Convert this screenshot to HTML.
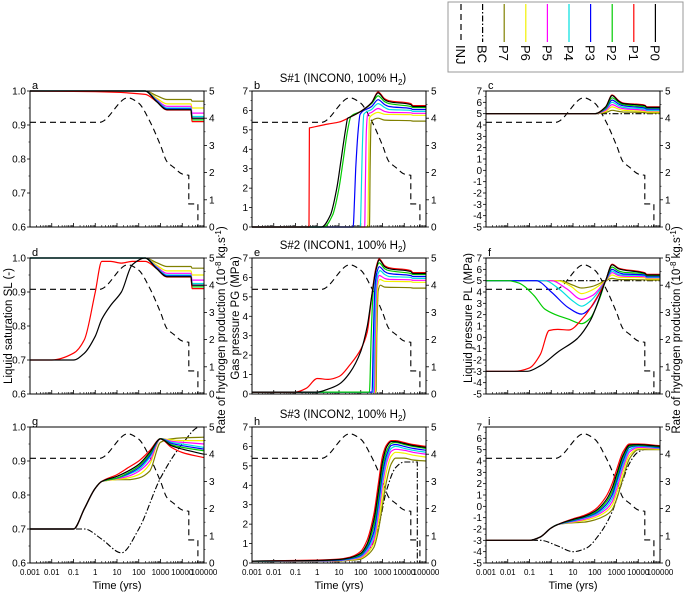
<!DOCTYPE html>
<html><head><meta charset="utf-8">
<style>
html,body{margin:0;padding:0;background:#fff;}
svg{display:block;font-family:"Liberation Sans",Arial,sans-serif;}
</style></head>
<body>
<svg id="fig" width="685" height="595" viewBox="0 0 685 595" xmlns="http://www.w3.org/2000/svg"></svg>
<script>
// ---------- DATA (x = log10 time in years, y = value) ----------
const xTickLabels = ["0.001","0.01","0.1","1","10","100","1000","10000","100000"];
const seriesNames = ["P7","P6","P5","P4","P3","P2","P1","P0"];
const seriesColors = ["#808000","#f2f200","#ff00ff","#00e0e0","#0000ff","#00cc00","#ff0000","#000000"];

const injT = [-3,0.2,1.5,2.0,2.5,3.0,3.3,3.6,4.0,4.3,4.3,4.72,4.72,5];
const injV = [3.85,3.85,4.75,4.55,3.9,3.0,2.4,2.2,1.95,1.9,0.85,0.85,0,0];

// panel a
const aT  = [-3,0,2.3,2.8,3.3,4.4,4.45,5];
const aP0 = [1,1,1,0.97,0.945,0.945,0.92,0.92];
const aP1 = [1,0.998,0.99,0.97,0.944,0.944,0.91,0.91];
const aP2 = [1,1,1,0.97,0.945,0.945,0.915,0.915];
const aP3 = [1,1,1,0.972,0.947,0.947,0.92,0.92];
const aP4 = [1,1,1,0.974,0.95,0.95,0.925,0.925];
const aP5 = [1,1,1,0.976,0.955,0.955,0.935,0.935];
const aP6 = [1,1,1,0.98,0.962,0.962,0.95,0.95];
const aP7 = [1,1,1,0.987,0.975,0.975,0.97,0.97];

// panel d
const dT  = [-3,-2,-1,-0.5,0,0.3,0.7,1.2,1.7,2.3,2.8,3.3,4.4,4.45,5];
const dP1 = [0.7,0.7,0.72,0.76,0.9,0.99,0.99,0.985,0.99,0.99,0.97,0.944,0.944,0.91,0.91];
const dP0 = [0.7,0.7,0.7,0.72,0.77,0.82,0.86,0.9,0.98,1,0.97,0.945,0.945,0.92,0.92];
const dP2 = [1,1,1,1,1,1,1,1,1,1,0.97,0.945,0.945,0.915,0.915];
const dP3 = [1,1,1,1,1,1,1,1,1,1,0.972,0.947,0.947,0.92,0.92];
const dP4 = [1,1,1,1,1,1,1,1,1,1,0.974,0.95,0.95,0.925,0.925];
const dP5 = [1,1,1,1,1,1,1,1,1,1,0.976,0.955,0.955,0.935,0.935];
const dP6 = [1,1,1,1,1,1,1,1,1,1,0.98,0.962,0.962,0.95,0.95];
const dP7 = [1,1,1,1,1,1,1,1,1,1,0.987,0.975,0.975,0.97,0.97];

// panel g
const gT  = [-3,-1,-0.5,0,0.3,1,1.5,2,2.5,3,3.5,4,5];
const gP1 = [0.7,0.7,0.76,0.82,0.84,0.86,0.88,0.9,0.93,0.965,0.94,0.925,0.91];
const gP0 = [0.7,0.7,0.76,0.82,0.84,0.855,0.87,0.89,0.925,0.965,0.945,0.935,0.92];
const gP2 = [0.7,0.7,0.76,0.82,0.84,0.85,0.865,0.885,0.92,0.966,0.948,0.94,0.93];
const gP3 = [0.7,0.7,0.76,0.82,0.84,0.85,0.862,0.88,0.915,0.966,0.952,0.945,0.935];
const gP4 = [0.7,0.7,0.76,0.82,0.84,0.85,0.86,0.875,0.91,0.966,0.955,0.95,0.94];
const gP5 = [0.7,0.7,0.76,0.82,0.84,0.848,0.855,0.87,0.9,0.966,0.958,0.955,0.95];
const gP6 = [0.7,0.7,0.76,0.82,0.84,0.846,0.85,0.86,0.89,0.966,0.962,0.96,0.96];
const gP7 = [0.7,0.7,0.76,0.82,0.84,0.845,0.845,0.85,0.87,0.955,0.965,0.968,0.97];
const gBCT = [-3,-0.5,0.3,1.2,2,3,4,4.8,5];
const gBCV = [0.7,0.7,0.67,0.63,0.7,0.85,0.95,1.0,1.0];

// panel b
const bP1 = [[-3,0],[-0.38,0],[-0.36,5.1],[0.5,5.3],[1,5.4],[1.5,5.65],[2,5.95],[2.5,6.4],[2.8,6.95],[3.1,6.6],[3.3,6.5],[4.3,6.35],[4.4,6.25],[5,6.25]];
const bP0 = [[-3,0],[0.2,0],[0.6,0.6],[0.9,2],[1.1,3.5],[1.3,5.0],[1.4,5.6],[1.5,5.65],[2,5.95],[2.5,6.4],[2.8,6.9],[3.1,6.55],[3.3,6.45],[4.3,6.3],[4.4,6.2],[5,6.2]];
const bP2 = [[-3,0],[0.3,0],[0.7,0.6],[1,2],[1.2,3.5],[1.4,5],[1.55,5.7],[2,5.95],[2.5,6.35],[2.8,6.75],[3.1,6.45],[3.3,6.35],[4.3,6.2],[4.4,6.15],[5,6.15]];
const bP3 = [[-3,0],[1.65,0],[1.7,1],[1.77,3],[1.87,4.8],[1.97,5.8],[2.5,6.2],[2.8,6.55],[3.1,6.3],[3.3,6.2],[4.3,6.1],[4.4,6.05],[5,6.05]];
const bP4 = [[-3,0],[1.98,0],[2.02,1.5],[2.07,4],[2.14,5.8],[2.5,6.05],[2.8,6.35],[3.1,6.15],[3.3,6.05],[4.3,6.0],[4.4,5.95],[5,5.95]];
const bP5 = [[-3,0],[2.18,0],[2.21,2],[2.26,5.0],[2.32,5.8],[2.5,5.9],[2.8,6.1],[3.1,5.95],[3.3,5.9],[4.3,5.88],[4.4,5.85],[5,5.85]];
const bP6 = [[-3,0],[2.33,0],[2.36,3],[2.4,5.6],[2.5,5.75],[2.8,5.9],[3.1,5.8],[4.3,5.78],[4.4,5.75],[5,5.75]];
const bP7 = [[-3,0],[2.4,0],[2.43,3],[2.47,5.3],[2.55,5.5],[2.8,5.6],[3.1,5.5],[4.3,5.47],[4.4,5.45],[5,5.45]];

// panel e
const eP1 = [[-3,0.1],[-1,0.1],[-0.5,0.3],[0,0.8],[0.5,0.75],[1,0.9],[1.5,1.5],[2,2.3],[2.3,3.2],[2.5,5],[2.7,6.5],[2.85,6.95],[3.1,6.6],[3.3,6.5],[4.3,6.35],[4.4,6.25],[5,6.25]];
const eP0 = [[-3,0.1],[0,0.1],[0.5,0.25],[1,0.5],[1.5,1.1],[2,2.2],[2.3,3.5],[2.5,5],[2.7,6.4],[2.85,6.9],[3.1,6.55],[3.3,6.45],[4.3,6.3],[4.4,6.2],[5,6.2]];
const eP2 = [[-3,0.1],[2.4,0.1],[2.48,3],[2.58,5.5],[2.7,6.4],[2.85,6.75],[3.1,6.45],[3.3,6.35],[4.3,6.2],[4.4,6.15],[5,6.15]];
const eP3 = [[-3,0.1],[2.52,0.1],[2.58,3],[2.65,5.5],[2.75,6.3],[2.85,6.55],[3.1,6.3],[3.3,6.2],[4.3,6.1],[4.4,6.05],[5,6.05]];
const eP4 = [[-3,0.1],[2.58,0.1],[2.63,3],[2.7,5.6],[2.8,6.2],[2.88,6.35],[3.1,6.15],[3.3,6.05],[4.3,6.0],[4.4,5.95],[5,5.95]];
const eP5 = [[-3,0.1],[2.63,0.1],[2.67,3],[2.73,5.5],[2.85,6.1],[3.1,5.95],[3.3,5.9],[4.3,5.88],[4.4,5.85],[5,5.85]];
const eP6 = [[-3,0.1],[2.67,0.1],[2.71,3],[2.77,5.5],[2.88,5.9],[3.1,5.8],[4.3,5.78],[4.4,5.75],[5,5.75]];
const eP7 = [[-3,0.1],[2.7,0.1],[2.74,3],[2.8,5.3],[2.9,5.6],[3.1,5.5],[4.3,5.47],[4.4,5.45],[5,5.45]];

// panel c
const cT  = [-3,2.0,2.5,2.8,3.1,3.3,4.3,4.4,5];
const cP0 = [5,5,5.6,6.6,6.1,5.9,5.7,5.55,5.55];
const cP1 = [5,5,5.6,6.65,6.15,5.95,5.75,5.6,5.6];
const cP2 = [5,5,5.5,6.4,6.0,5.8,5.6,5.5,5.5];
const cP3 = [5,5,5.45,6.2,5.85,5.7,5.5,5.4,5.4];
const cP4 = [5,5,5.4,6.0,5.7,5.55,5.4,5.3,5.3];
const cP5 = [5,5,5.3,5.8,5.55,5.45,5.3,5.25,5.25];
const cP6 = [5,5,5.2,5.6,5.4,5.3,5.2,5.15,5.15];
const cP7 = [5,5,5.1,5.3,5.2,5.15,5.1,5.05,5.05];
const cBCT = [-3,5];
const cBCV = [5,5];

// panel f
const fP0 = [[-3,-3],[-1.1,-3],[-0.5,-2.5],[0.3,-1.3],[1.2,-0.1],[1.8,1.5],[2.5,5],[2.8,6.4],[3.1,6.05],[3.3,5.95],[4.3,5.65],[4.4,5.5],[5,5.5]];
const fP1 = [[-3,-3],[-1.7,-3],[-1,-2.7],[-0.5,-1.5],[-0.1,0.6],[0.3,0.7],[0.8,0.65],[1.5,1.8],[2.0,3.2],[2.5,5],[2.8,6.45],[3.1,6.1],[3.3,6.0],[4.3,5.7],[4.4,5.55],[5,5.55]];
const fP2 = [[-3,5],[-2,5],[-1.5,4.8],[-0.8,3.7],[-0.3,2.5],[0.2,2.0],[0.8,1.6],[1.4,1.2],[1.8,1.7],[2.2,3.3],[2.5,5],[2.8,6.2],[3.1,5.85],[3.3,5.75],[4.3,5.6],[4.4,5.45],[5,5.45]];
const fP3 = [[-3,5],[-0.7,5],[0,4],[0.8,2.6],[1.4,2.05],[1.8,2.6],[2.2,3.8],[2.5,5],[2.8,6.0],[3.1,5.7],[3.3,5.6],[4.3,5.5],[4.4,5.35],[5,5.35]];
const fP4 = [[-3,5],[-0.3,5],[0.4,4.2],[1,3.2],[1.4,2.75],[1.8,3.2],[2.2,4.1],[2.5,5],[2.8,5.85],[3.1,5.55],[3.3,5.5],[4.3,5.45],[4.4,5.3],[5,5.3]];
const fP5 = [[-3,5],[0,5],[0.7,4.3],[1.4,3.35],[1.9,3.7],[2.5,5],[2.8,5.7],[3.1,5.45],[3.3,5.4],[4.3,5.35],[4.4,5.25],[5,5.25]];
const fP6 = [[-3,5],[0.3,5],[0.9,4.5],[1.4,3.86],[1.9,4.2],[2.5,5],[2.8,5.5],[3.1,5.3],[4.3,5.25],[4.4,5.15],[5,5.15]];
const fP7 = [[-3,5],[0.4,5],[1,4.6],[1.4,4.35],[1.9,4.5],[2.5,5],[2.8,5.2],[3.1,5.1],[4.3,5.08],[4.4,5.05],[5,5.05]];
const fBCT = [-3,5];
const fBCV = [5,5];

// panel h
const hT  = [-3,0,1,1.5,2,2.3,2.6,2.8,3.0,3.2,3.4,3.6,4.0,4.4,5];
const hP1 = [0.1,0.15,0.2,0.3,0.6,1.2,2.5,4,5.5,6.1,6.3,6.3,6.2,6.1,6.0];
const hP0 = [0.1,0.13,0.18,0.27,0.5,1.0,2.2,3.6,5.2,6.0,6.25,6.25,6.15,6.05,5.95];
const hP2 = [0.1,0.12,0.17,0.25,0.45,0.9,1.9,3.3,4.9,5.8,6.15,6.2,6.1,6.0,5.9];
const hP3 = [0.1,0.12,0.15,0.22,0.4,0.8,1.6,3.0,4.6,5.6,6.05,6.1,6.0,5.9,5.8];
const hP4 = [0.1,0.11,0.14,0.2,0.35,0.7,1.4,2.7,4.3,5.4,5.9,6.0,5.9,5.8,5.7];
const hP5 = [0.1,0.1,0.13,0.18,0.3,0.6,1.2,2.4,4.0,5.2,5.75,5.85,5.8,5.7,5.6];
const hP6 = [0.1,0.1,0.12,0.16,0.25,0.5,1.0,2.0,3.5,4.8,5.5,5.7,5.65,5.55,5.45];
const hP7 = [0.1,0.1,0.1,0.14,0.2,0.4,0.8,1.6,3.0,4.3,5.1,5.4,5.4,5.3,5.25];
const hBCT = [-3,1,1.8,2.3,2.8,3.2,3.6,4.0,4.6,4.6,5];
const hBCV = [0.1,0.1,0.2,0.5,1.8,3.8,4.9,5.2,5.2,0,0];

// panel i
const iT  = [-3,-1,-0.5,0,0.3,1,1.5,2,2.5,2.8,3.0,3.3,3.6,4.0,5];
const iP1 = [-3,-3,-2.7,-1.9,-1.6,-1.1,-0.8,-0.3,0.8,2.0,3.2,4.8,5.5,5.5,5.35];
const iP0 = [-3,-3,-2.7,-1.9,-1.6,-1.15,-0.9,-0.45,0.5,1.6,2.8,4.5,5.4,5.45,5.3];
const iP2 = [-3,-3,-2.7,-1.9,-1.6,-1.2,-0.95,-0.55,0.3,1.3,2.5,4.3,5.3,5.4,5.25];
const iP3 = [-3,-3,-2.7,-1.9,-1.6,-1.25,-1.0,-0.65,0.1,1.0,2.2,4.0,5.2,5.35,5.2];
const iP4 = [-3,-3,-2.7,-1.9,-1.6,-1.3,-1.05,-0.75,-0.1,0.7,1.9,3.7,5.0,5.3,5.15];
const iP5 = [-3,-3,-2.7,-1.9,-1.6,-1.35,-1.15,-0.85,-0.3,0.4,1.5,3.4,4.8,5.2,5.1];
const iP6 = [-3,-3,-2.7,-1.9,-1.6,-1.4,-1.25,-1.0,-0.5,0.1,1.1,3.0,4.5,5.1,5.05];
const iP7 = [-3,-3,-2.7,-1.9,-1.6,-1.45,-1.4,-1.2,-0.8,-0.3,0.6,2.5,4.2,5.0,5.0];
const iBCT = [-3,-0.5,0.3,1,1.6,2.2,2.8,3.2,3.6,4,4.5,5];
const iBCV = [-3,-3,-3.5,-4,-3.7,-2.5,-0.5,1.8,3.8,4.8,5.1,5.1];

// ---------- DRAWING ----------
const NS = "http://www.w3.org/2000/svg";
const svg = document.getElementById("fig");
function mk(tag, attrs, parent){
  const e = document.createElementNS(NS, tag);
  for (const k in attrs) e.setAttribute(k, attrs[k]);
  (parent||svg).appendChild(e);
  return e;
}
function zip(t, v){ return t.map((x,i)=>[x, v[i]]); }

// monotone cubic path through pixel points; vertical steps drawn straight
function monoRun(P){
  const n = P.length;
  if (n < 2) return "";
  if (n === 2) return " L" + P[1][0].toFixed(1) + "," + P[1][1].toFixed(1);
  const d = [], m = [];
  for (let i=0;i<n-1;i++) d.push((P[i+1][1]-P[i][1])/(P[i+1][0]-P[i][0]));
  m.push(d[0]);
  for (let i=1;i<n-1;i++){
    if (d[i-1]*d[i] <= 0) m.push(0);
    else {
      const h0 = P[i][0]-P[i-1][0], h1 = P[i+1][0]-P[i][0];
      const w1 = 2*h1+h0, w2 = h1+2*h0;
      m.push((w1+w2)/(w1/d[i-1]+w2/d[i]));
    }
  }
  m.push(d[n-2]);
  let s = "";
  for (let i=0;i<n-1;i++){
    const h = (P[i+1][0]-P[i][0])/3;
    s += " C" + (P[i][0]+h).toFixed(1) + "," + (P[i][1]+m[i]*h).toFixed(1) + " " +
         (P[i+1][0]-h).toFixed(1) + "," + (P[i+1][1]-m[i+1]*h).toFixed(1) + " " +
         P[i+1][0].toFixed(1) + "," + P[i+1][1].toFixed(1);
  }
  return s;
}
function smoothPath(P){
  let s = "M" + P[0][0].toFixed(1) + "," + P[0][1].toFixed(1);
  let run = [P[0]];
  for (let i=1;i<P.length;i++){
    if (P[i][0] - P[i-1][0] < 0.6){
      s += monoRun(run);
      s += " L" + P[i][0].toFixed(1) + "," + P[i][1].toFixed(1);
      run = [P[i]];
    } else run.push(P[i]);
  }
  s += monoRun(run);
  return s;
}

const colX = [30, 252, 486];
const rowY = [91, 258, 427];
const W = 174, H = 136;

const leftRanges = [[0.6,1.0],[0,7],[-5,7]];
const leftTicks = [[0.6,0.7,0.8,0.9,1.0],[0,1,2,3,4,5,6,7],[-5,-4,-3,-2,-1,0,1,2,3,4,5,6,7]];
const leftLabels = [["0.6","0.7","0.8","0.9","1.0"],["0","1","2","3","4","5","6","7"],["-5","-4","-3","-2","-1","0","1","2","3","4","5","6","7"]];
const rightTicks = [0,1,2,3,4,5];

const panels = [
  {id:"a", c:0, r:0, series:[aP7,aP6,aP5,aP4,aP3,aP2,aP1,aP0].map(v=>zip(aT,v)), bc:null},
  {id:"b", c:1, r:0, series:[bP7,bP6,bP5,bP4,bP3,bP2,bP1,bP0], bc:null},
  {id:"c", c:2, r:0, series:[cP7,cP6,cP5,cP4,cP3,cP2,cP1,cP0].map(v=>zip(cT,v)), bc:zip(cBCT,cBCV)},
  {id:"d", c:0, r:1, series:[dP7,dP6,dP5,dP4,dP3,dP2,dP1,dP0].map(v=>zip(dT,v)), bc:null},
  {id:"e", c:1, r:1, series:[eP7,eP6,eP5,eP4,eP3,eP2,eP1,eP0], bc:null},
  {id:"f", c:2, r:1, series:[fP7,fP6,fP5,fP4,fP3,fP2,fP1,fP0], bc:zip(fBCT,fBCV)},
  {id:"g", c:0, r:2, series:[gP7,gP6,gP5,gP4,gP3,gP2,gP1,gP0].map(v=>zip(gT,v)), bc:zip(gBCT,gBCV)},
  {id:"h", c:1, r:2, series:[hP7,hP6,hP5,hP4,hP3,hP2,hP1,hP0].map(v=>zip(hT,v)), bc:zip(hBCT,hBCV)},
  {id:"i", c:2, r:2, series:[iP7,iP6,iP5,iP4,iP3,iP2,iP1,iP0].map(v=>zip(iT,v)), bc:zip(iBCT,iBCV)}
];

panels.forEach(p=>{
  const x0 = colX[p.c], y0 = rowY[p.r];
  const [lmin,lmax] = leftRanges[p.c];
  const xs = lt => x0 + (lt+3)/8*W;
  const yl = v => y0 + H - (v-lmin)/(lmax-lmin)*H;
  const yr = v => y0 + H - v/5*H;
  const g = mk("g", {});
  
  

  const clipId = "clip"+p.id;
  const cp = mk("clipPath", {id:clipId}, g);
  mk("rect", {x:x0, y:y0-1, width:W, height:H+2}, cp);

  const xa = mk("g", {}, g);
  
  
  for (let d=-3; d<=5; d++){
    const X = xs(d);
    mk("line", {x1:X, y1:y0+H, x2:X, y2:y0+H-4, stroke:"#000", "stroke-width":0.8}, xa);
    if (d<5) for (let m=2;m<=9;m++){
      const Xm = xs(d+Math.log10(m));
      mk("line", {x1:Xm, y1:y0+H, x2:Xm, y2:y0+H-2, stroke:"#000", "stroke-width":0.6}, xa);
    }
    if (p.r===2){
      const t = mk("text", {x:X, y:y0+H+12, "font-size":8, "text-anchor":"middle", fill:"#000"}, xa);
      t.textContent = xTickLabels[d+3];
      
      
    }
  }
  if (p.r===2){
    const t = mk("text", {x:x0+W/2, y:y0+H+26, "font-size":11, "text-anchor":"middle"}, xa);
    t.textContent = "Time (yrs)";
    
    
  }

  const ya = mk("g", {}, g);
  
  
  const lt = leftTicks[p.c];
  lt.forEach((v,i)=>{
    const Y = yl(v);
    mk("line", {x1:x0, y1:Y, x2:x0-3, y2:Y, stroke:"#000", "stroke-width":0.8}, ya);
    if (i<lt.length-1){
      const Ym = yl((v+lt[i+1])/2);
      mk("line", {x1:x0, y1:Ym, x2:x0-1.5, y2:Ym, stroke:"#000", "stroke-width":0.6}, ya);
    }
    const t = mk("text", {x:x0-4, y:Y+3.5, "font-size":10, "text-anchor":"end"}, ya);
    t.textContent = leftLabels[p.c][i];
    
    
  });
  const ra = mk("g", {}, g);
  
  
  rightTicks.forEach((v,i)=>{
    const Y = yr(v);
    mk("line", {x1:x0+W, y1:Y, x2:x0+W+3, y2:Y, stroke:"#000", "stroke-width":0.8}, ra);
    if (i<rightTicks.length-1){
      const Ym = yr(v+0.5);
      mk("line", {x1:x0+W, y1:Ym, x2:x0+W+1.5, y2:Ym, stroke:"#000", "stroke-width":0.6}, ra);
    }
    const t = mk("text", {x:x0+W+5, y:Y+3.5, "font-size":10}, ra);
    t.textContent = String(v);
    
    
  });

  const plot = mk("g", {"clip-path":"url(#"+clipId+")"}, g);
  const inj = mk("path", {d: smoothPath(zip(injT,injV).map(q=>[xs(q[0]), yr(q[1])])), fill:"none", stroke:"#000", "stroke-width":1.1, "stroke-dasharray":"6,4"}, plot);
  
  
  if (p.bc){
    const bc = mk("path", {d: smoothPath(p.bc.map(q=>[xs(q[0]), yl(q[1])])), fill:"none", stroke:"#000", "stroke-width":1.1, "stroke-dasharray":"6,2,1.5,2"}, plot);
    
    
  }
  p.series.forEach((s,k)=>{
    const pl = mk("path", {d: smoothPath(s.map(q=>[xs(q[0]), yl(q[1])])), fill:"none", stroke:seriesColors[k], "stroke-width":1.2, "stroke-linejoin":"round"}, plot);
    
    
  });

  const fr = mk("rect", {x:x0, y:y0, width:W, height:H, fill:"none", stroke:"#000", "stroke-width":1}, g);
  
  

  const lab = mk("text", {x:x0+2, y:y0-2, "font-size":11}, g);
  lab.textContent = p.id;
  
  
});

const titles = [["S#1 (INCON0, 100% H","82"],["S#2 (INCON1, 100% H","249"],["S#3 (INCON2, 100% H","418"]];
titles.forEach((tt,i)=>{
  const t = mk("text", {x:colX[1]+W/2+4, y:tt[1], "font-size":11.5, "text-anchor":"middle"});
  t.innerHTML = tt[0] + '<tspan font-size="8" dy="3">2</tspan><tspan dy="-3">)</tspan>';
  
  
});

function vtext(x, y, html, name){
  const t = mk("text", {x:0, y:0, "font-size":11.5, "text-anchor":"middle", transform:"translate("+x+","+y+") rotate(-90)"});
  t.innerHTML = html;
  
  
}
const rateHtml = 'Rate of hydrogen production (10<tspan font-size="8" dy="-4">-8</tspan><tspan dy="4"> kg.s</tspan><tspan font-size="8" dy="-4">-1</tspan><tspan dy="4">)</tspan>';
vtext(12, 326, 'Liquid saturation SL (-)', 'y-axis-title-saturation');
vtext(225, 330, rateHtml, 'y-axis-title-rate-left');
vtext(239, 318, 'Gas pressure PG (MPa)', 'y-axis-title-gas-pressure');
vtext(472, 318, 'Liquid pressure PL (MPa)', 'y-axis-title-liquid-pressure');
vtext(680, 330, rateHtml, 'y-axis-title-rate-right');

const legNames = ["INJ","BC","P7","P6","P5","P4","P3","P2","P1","P0"];
const legColors = ["#000","#000"].concat(seriesColors);
const leg = mk("g", {});


const lb = mk("rect", {x:448, y:2, width:235, height:70, fill:"#fff", stroke:"#999", "stroke-width":1}, leg);


legNames.forEach((n,i)=>{
  const X = 461 + i*21.6;
  const e = mk("g", {}, leg);
  
  
  const attrs = {x1:X, y1:4, x2:X, y2:42, stroke:legColors[i], "stroke-width":1.2};
  if (i===0) attrs["stroke-dasharray"]="6,4";
  if (i===1) attrs["stroke-dasharray"]="6,2,1.5,2";
  mk("line", attrs, e);
  const t = mk("text", {x:0, y:0, "font-size":13, transform:"translate("+(X-5)+",45) rotate(90)"}, e);
  t.textContent = n;
});
</script>
</body></html>
